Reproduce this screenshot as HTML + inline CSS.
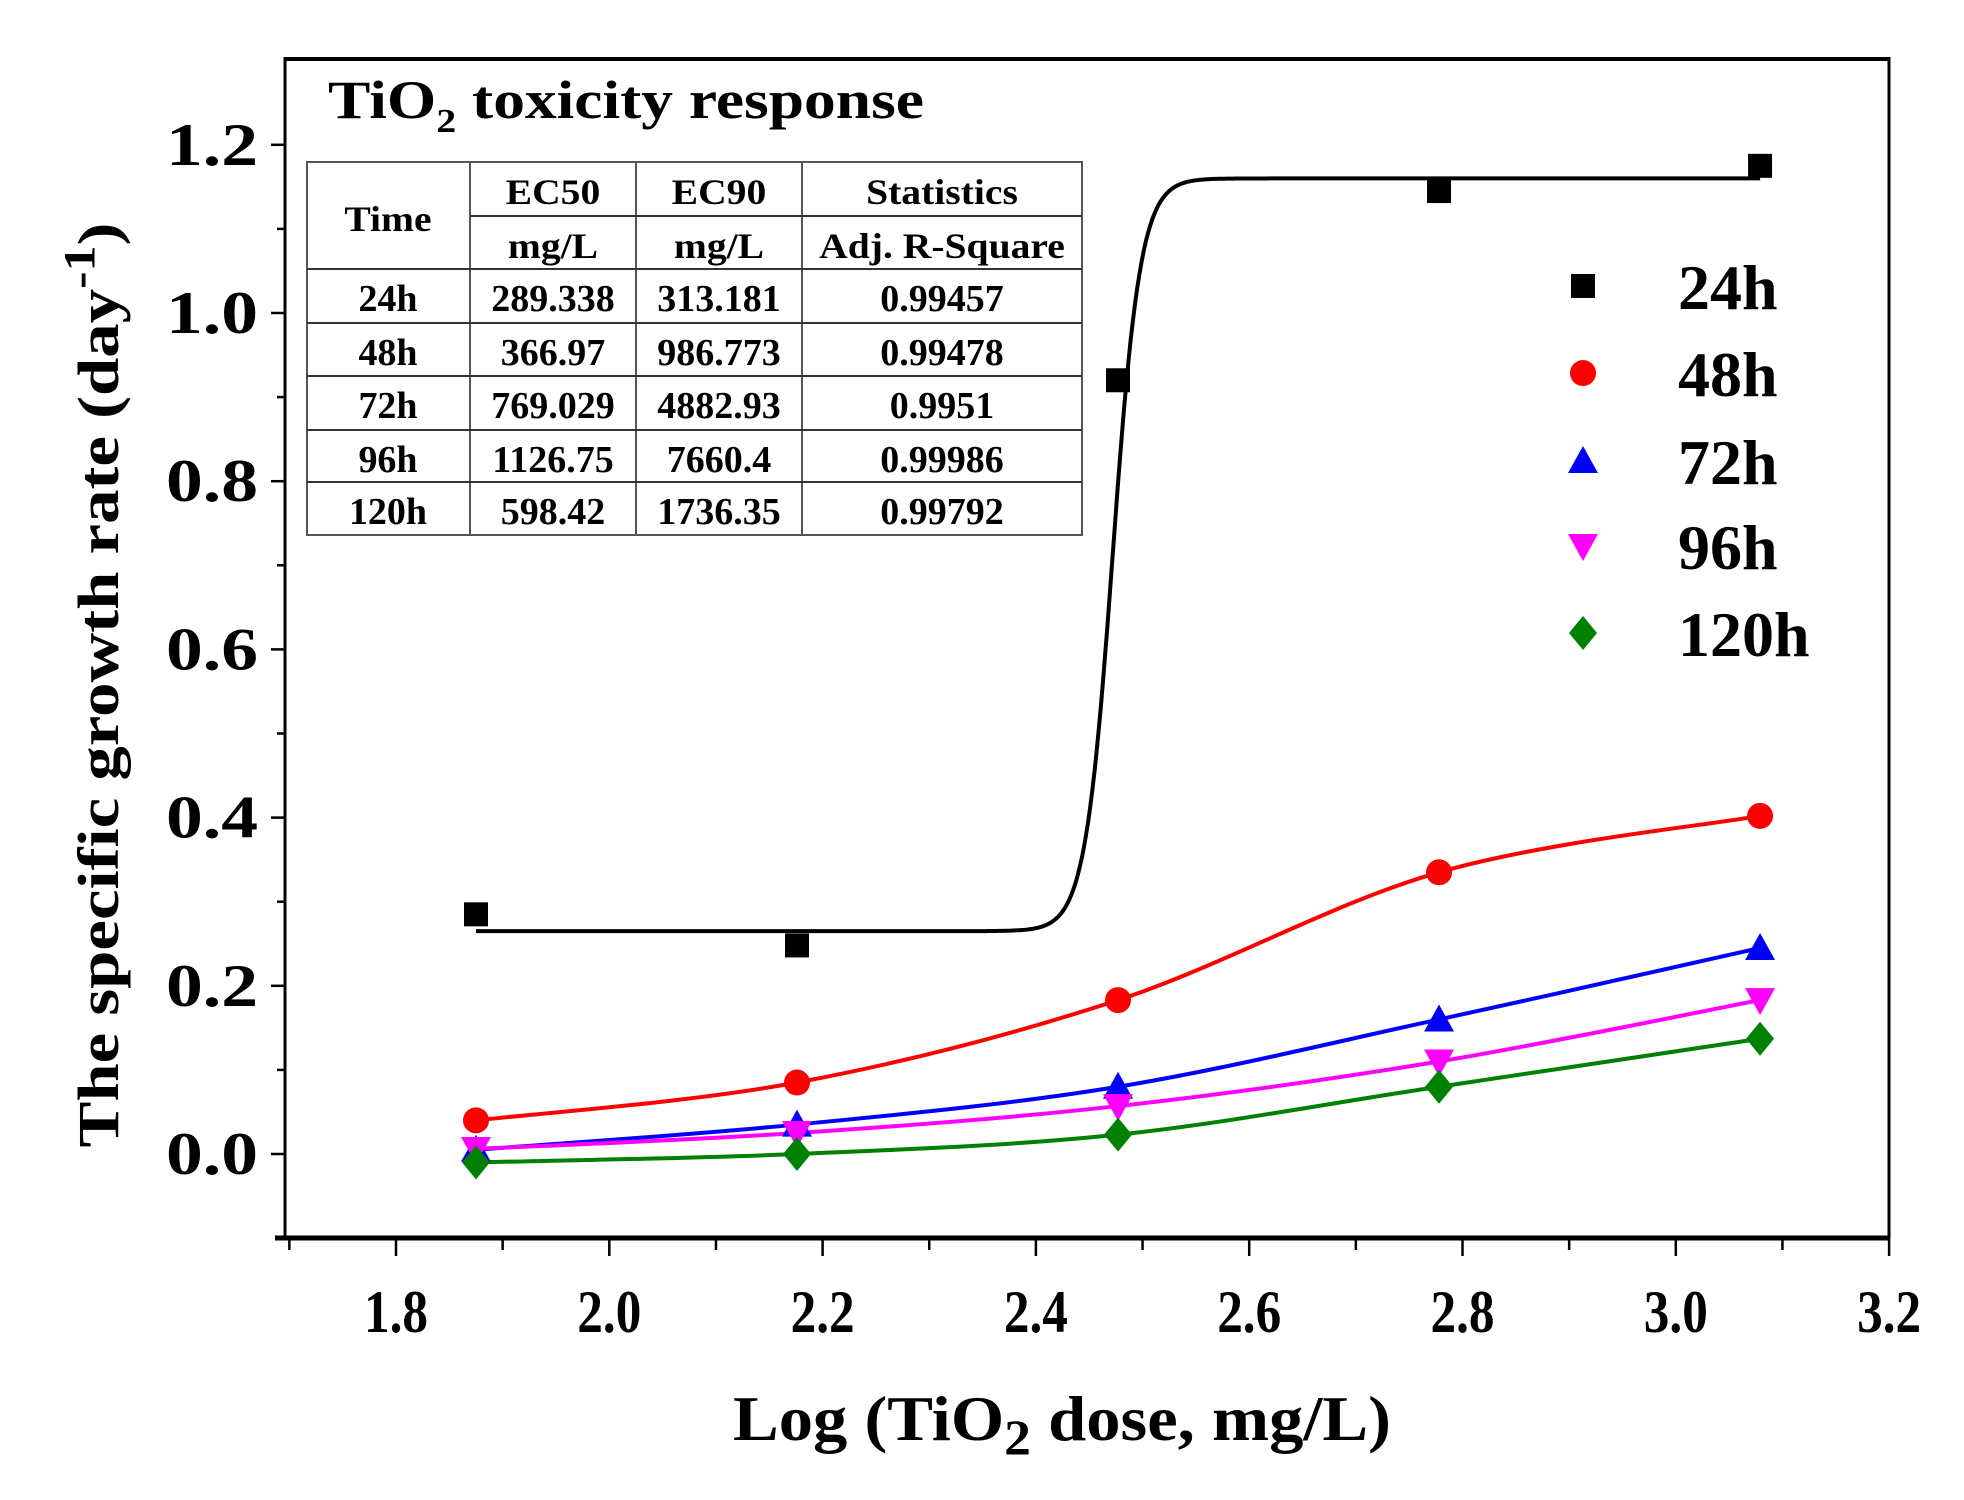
<!DOCTYPE html>
<html><head><meta charset="utf-8"><style>
html,body{margin:0;padding:0;background:#fff;}
svg{display:block;}
text{font-family:"Liberation Serif",serif;font-weight:bold;fill:#000;}
</style></head><body>
<svg id="s" width="1964" height="1500" viewBox="0 0 1964 1500" xmlns="http://www.w3.org/2000/svg">
<rect x="0" y="0" width="1964" height="1500" fill="#fff"/>
<g id="g"></g>
</svg>
<script>
const NS="http://www.w3.org/2000/svg";
const g=document.getElementById('g');
function el(t,a,txt){const e=document.createElementNS(NS,t);for(const k in a)e.setAttribute(k,a[k]);if(txt!==undefined)e.textContent=txt;g.appendChild(e);return e;}
function stretch(e,f){try{const w=e.getComputedTextLength();e.setAttribute('textLength',(w*f).toFixed(1));e.setAttribute('lengthAdjust','spacingAndGlyphs');}catch(err){}}
const X=v=>396+(v-1.8)*1066.5, Y=v=>1154-v*841;
const L=285,T=59,R=1889,B=1238;
el('line',{x1:L,y1:T,x2:R,y2:T,stroke:'#000','stroke-width':4});
el('line',{x1:L,y1:T-2,x2:L,y2:B,stroke:'#000','stroke-width':3});
el('line',{x1:R,y1:T-2,x2:R,y2:B,stroke:'#000','stroke-width':3});
el('line',{x1:L-10,y1:B,x2:R,y2:B,stroke:'#000','stroke-width':5});
for(let i=0;i<=15;i++){const v=1.7+i*0.1;const x=X(v);const maj=i%2==1;
 el('line',{x1:x,y1:B,x2:x,y2:B+(maj?18:12),stroke:'#000','stroke-width':2.5});}
['1.8','2.0','2.2','2.4','2.6','2.8','3.0','3.2'].forEach((s,i)=>{el('text',{x:X(1.8+i*0.2),y:1332,'font-size':60,'text-anchor':'middle',textLength:64,lengthAdjust:'spacingAndGlyphs'},s);});
for(let i=0;i<=13;i++){const v=-0.1+i*0.1;const y=Y(v);const maj=i%2==1;
 el('line',{x1:L,y1:y,x2:L-(maj?14:8),y2:y,stroke:'#000','stroke-width':2.5});}
['0.0','0.2','0.4','0.6','0.8','1.0','1.2'].forEach((s,i)=>{el('text',{x:258,y:Y(i*0.2)+20,'font-size':60,'text-anchor':'end',textLength:92,lengthAdjust:'spacingAndGlyphs'},s);});
const yl=el('text',{x:0,y:0,'font-size':58,'text-anchor':'middle',transform:'translate(118,685) rotate(-90)',textLength:925,lengthAdjust:'spacingAndGlyphs'});
yl.innerHTML='The specific growth rate (day<tspan dy="-24" font-size="44">-1</tspan><tspan dy="24">)</tspan>';
const xl=el('text',{x:1062,y:1440,'font-size':64,'text-anchor':'middle',textLength:658,lengthAdjust:'spacingAndGlyphs'});
xl.innerHTML='Log (TiO<tspan dy="14" font-size="50">2</tspan><tspan dy="-14"> dose, mg/L)</tspan>';
const tt=el('text',{x:328,y:118,'font-size':54,textLength:596,lengthAdjust:'spacingAndGlyphs'});
tt.innerHTML='TiO<tspan dy="14" font-size="34">2</tspan><tspan dy="-14"> toxicity response</tspan>';
const tl=307,tr=1082,rows=[162,216,269,323,376,430,482,535];
el('rect',{x:tl,y:162,width:tr-tl,height:535-162,fill:'none',stroke:'#555','stroke-width':2});
[470,636,802].forEach(c=>el('line',{x1:c,y1:162,x2:c,y2:535,stroke:'#555','stroke-width':2}));
el('line',{x1:470,y1:216,x2:tr,y2:216,stroke:'#333','stroke-width':2});
rows.slice(2,7).forEach(r=>el('line',{x1:tl,y1:r,x2:tr,y2:r,stroke:'#333','stroke-width':2}));
const cx=[388,553,719,942];
stretch(el('text',{x:cx[0],y:231,'font-size':36,'text-anchor':'middle'},'Time'),1.1);
[['EC50','EC90','Statistics'],['mg/L','mg/L','Adj. R-Square']].forEach((r,ri)=>r.forEach((s,i)=>stretch(el('text',{x:cx[i+1],y:rows[ri]+42,'font-size':36,'text-anchor':'middle'},s),1.1)));
const data=[['24h','289.338','313.181','0.99457'],['48h','366.97','986.773','0.99478'],['72h','769.029','4882.93','0.9951'],['96h','1126.75','7660.4','0.99986'],['120h','598.42','1736.35','0.99792']];
data.forEach((r,ri)=>r.forEach((s,i)=>stretch(el('text',{x:cx[i],y:rows[ri+2]+42,'font-size':38,'text-anchor':'middle'},s),1.0)));
const xs=[1.875,2.176,2.477,2.778,3.079];
const series=[
 {c:'#ff0000',y:[0.04,0.085,0.183,0.335,0.402],m:'circle'},
 {c:'#0000ff',y:[0.005,0.035,0.08,0.16,0.245],m:'up'},
 {c:'#ff00ff',y:[0.006,0.025,0.057,0.11,0.183],m:'down'},
 {c:'#008000',y:[-0.01,0.0,0.023,0.08,0.137],m:'diam'}];
function spline(px,py){let d='M'+X(px[0])+','+Y(py[0]);const n=px.length;
 for(let i=0;i<n-1;i++){const p0=i?i-1:i,p3=i+2<n?i+2:i+1;
  const x1=X(px[i])+(X(px[i+1])-X(px[p0]))/6,y1=Y(py[i])+(Y(py[i+1])-Y(py[p0]))/6;
  const x2=X(px[i+1])-(X(px[p3])-X(px[i]))/6,y2=Y(py[i+1])-(Y(py[p3])-Y(py[i]))/6;
  d+=` C${x1},${y1} ${x2},${y2} ${X(px[i+1])},${Y(py[i+1])}`;}return d;}
let d='';for(let v=1.875;v<=3.08;v+=0.002){const y=0.265+0.895/(1+Math.exp(-(v-2.472)/0.013));d+=(d?'L':'M')+X(v).toFixed(1)+','+Y(y).toFixed(1);}
el('path',{d:d,fill:'none',stroke:'#000','stroke-width':4});
series.forEach(s=>el('path',{d:spline(xs,s.y),fill:'none',stroke:s.c,'stroke-width':4}));
function marker(m,c,x,y){
 if(m=='sq')el('rect',{x:x-12,y:y-12,width:24,height:24,fill:c});
 else if(m=='circle')el('circle',{cx:x,cy:y,r:13,fill:c});
 else if(m=='up')el('polygon',{points:`${x},${y-15} ${x+15},${y+12} ${x-15},${y+12}`,fill:c});
 else if(m=='down')el('polygon',{points:`${x},${y+15} ${x+15},${y-12} ${x-15},${y-12}`,fill:c});
 else el('polygon',{points:`${x},${y-17} ${x+14},${y} ${x},${y+17} ${x-14},${y}`,fill:c});}
[0.285,0.248,0.92,1.145,1.175].forEach((v,i)=>marker('sq','#000',X(xs[i]),Y(v)));
series.forEach(s=>s.y.forEach((v,i)=>marker(s.m,s.c,X(xs[i]),Y(v))));
const leg=[['sq','#000','24h'],['circle','#ff0000','48h'],['up','#0000ff','72h'],['down','#ff00ff','96h'],['diam','#008000','120h']];
const ly=[286,373,461,546,633];
leg.forEach((l,i)=>{marker(l[0],l[1],1583,ly[i]);el('text',{x:1678,y:ly[i]+23,'font-size':64},l[2]);});
</script>
</body></html>
